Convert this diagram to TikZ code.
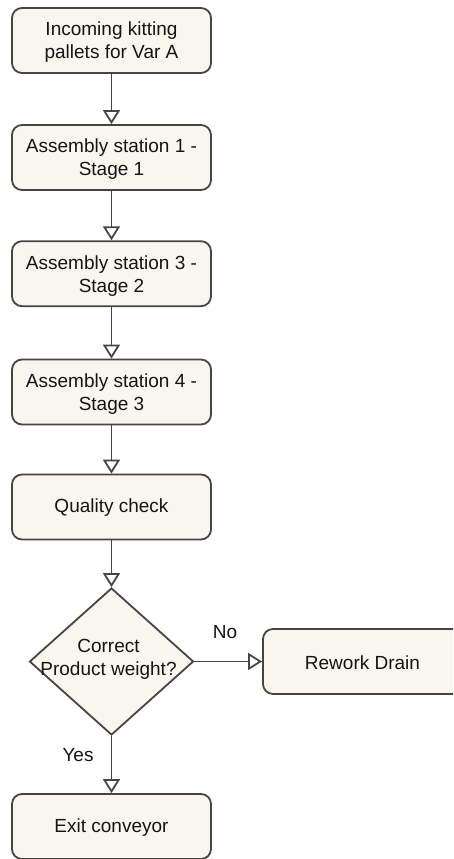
\documentclass[tikz,border=0pt]{standalone}
\usepackage{fontspec}
\setmainfont{Liberation Sans}
\usetikzlibrary{arrows.meta,shapes.geometric}
\definecolor{boxfill}{HTML}{F9F7ED}
\definecolor{boxline}{HTML}{454545}
\definecolor{txt}{HTML}{141414}
\begin{document}
\begin{tikzpicture}[x=1pt,y=-1pt,
  every node/.style={text=txt,font=\fontsize{19}{23}\selectfont},
  stepbox/.style={draw=boxline,fill=boxfill,line width=1.8pt,rounded corners=10pt,
    minimum width=199pt,minimum height=65pt,align=center,inner sep=0pt},
  decision/.style={draw=boxline,fill=boxfill,line width=1.8pt,diamond,
    minimum width=164pt,minimum height=147pt,inner sep=0pt},
  flow/.style={draw=boxline,line width=1.8pt,
    -{Triangle[open,length=14pt,width=17pt,line width=1.8pt]}}]
\useasboundingbox (0,0) rectangle (453,859);
\begin{scope}
\clip (0,0) rectangle (453,859);
% process steps, top to bottom
\node[stepbox] (in)  at (111.5,40.5)  {};
\node[stepbox] (s1)  at (111.5,157.5) {};
\node[stepbox] (s2)  at (111.5,273.7) {};
\node[stepbox] (s3)  at (111.5,392)   {};
\node[stepbox] (qc)  at (111.5,507)   {};
\node[decision] (dec) at (111.5,661.5) {};
\node[stepbox] (rw)  at (362.5,661.5) {};
\node[stepbox] (ex)  at (111.5,826.5) {};

% box captions, set a touch below centre
\node[align=center] (intext) at (111.5,42.5)  {Incoming kitting\\pallets for Var A};
\node[align=center] (s1text) at (111.5,159.5) {Assembly station 1 -\\Stage 1};
\node[align=center] (s2text) at (111.5,275.7) {Assembly station 3 -\\Stage 2};
\node[align=center] (s3text) at (111.5,394)   {Assembly station 4 -\\Stage 3};
\node (qctext) at (111.5,508)   {Quality check};
\node[align=center] (dectext) at (108.5,659.5) {Correct\\Product weight?};
\node (rwtext) at (362.5,662.5) {Rework Drain};
\node (extext) at (111.5,827.5) {Exit conveyor};

\draw[flow] (in) -- (s1);
\draw[flow] (s1) -- (s2);
\draw[flow] (s2) -- (s3);
\draw[flow] (s3) -- (qc);
\draw[flow] (qc) -- (dec);
\draw[flow] (dec.east) -- (rw.west);
\draw[flow] (dec.south) -- (ex);

\node (no)  at (225,632) {No};
\node (yes) at (78,755)  {Yes};
\end{scope}
\end{tikzpicture}
\end{document}
